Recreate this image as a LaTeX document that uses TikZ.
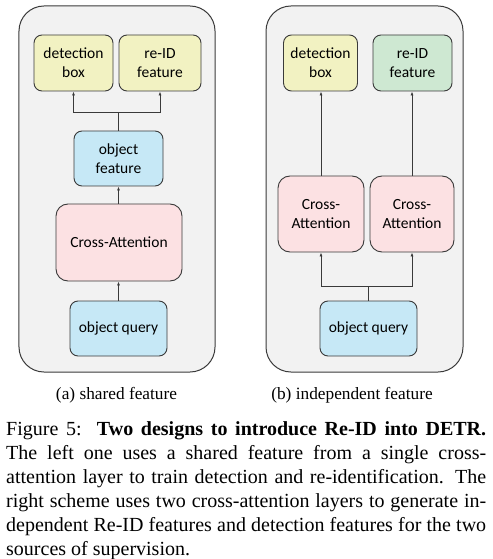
\documentclass[tikz,border=0pt]{standalone}
\usepackage{fontspec}
\setmainfont{Liberation Serif}
\newfontfamily\boxfont{Carlito}
\usetikzlibrary{arrows.meta}
\definecolor{panelbg}{HTML}{F2F2F2}
\definecolor{linecol}{HTML}{3A3A3A}
\definecolor{yelbox}{HTML}{F2F2C2}
\definecolor{bluebox}{HTML}{C6E8F6}
\definecolor{pinkbox}{HTML}{FCE1E3}
\definecolor{greenbox}{HTML}{CEE8D2}
\tikzset{
  panel/.style={draw=linecol, fill=panelbg, line width=1bp, rounded corners=25bp, inner sep=0},
  blk/.style={draw=linecol, line width=0.9bp, rounded corners=8bp, inner sep=0, align=center,
    font=\boxfont\fontsize{15.5bp}{19bp}\selectfont},
  conn/.style={draw=linecol, line width=0.9bp},
  arr/.style={conn, -{Latex[length=4bp,width=3bp]}},
  sub/.style={font=\fontsize{17.3bp}{20bp}\selectfont, inner sep=0, anchor=base}
}
\begin{document}
\begin{tikzpicture}[x=1bp,y=-1bp]
\useasboundingbox (0,0) rectangle (493,559);
% panels
\node[panel, minimum width=196bp, minimum height=366bp] (pa) at (117,189) {};
\node[panel, minimum width=197bp, minimum height=366bp] (pb) at (364.5,189) {};
% left panel
\node[blk, fill=yelbox, minimum width=79bp, minimum height=56bp] (det1) at (73.5,63) {detection\\box};
\node[blk, fill=yelbox, minimum width=82bp, minimum height=56bp] (reid1) at (160,63) {re-ID\\feature};
\node[blk, fill=bluebox, minimum width=89bp, minimum height=55bp] (of) at (118.5,158.5) {object\\feature};
\node[blk, fill=pinkbox, rounded corners=12bp, minimum width=126bp, minimum height=77bp] (ca1) at (119,242.5) {Cross-Attention};
\node[blk, fill=bluebox, minimum width=97bp, minimum height=55bp] (oq1) at (118.5,328.5) {object query};
\coordinate (jA) at (118.5,112);
\draw[arr] (oq1.north) -- (ca1.south -| oq1.north);
\draw[arr] (ca1.north -| of.south) -- (of.south);
\draw[conn] (of.north) -- (jA);
\draw[arr] (jA) -| (det1.south);
\draw[arr] (jA) -| (reid1.south);
% right panel
\node[blk, fill=yelbox, minimum width=74bp, minimum height=56bp] (det2) at (320.5,63) {detection\\box};
\node[blk, fill=greenbox, minimum width=79bp, minimum height=56bp] (reid2) at (412.5,63) {re-ID\\feature};
\node[blk, fill=pinkbox, rounded corners=12bp, minimum width=86bp, minimum height=76bp] (ca2a) at (321,214) {Cross-\\Attention};
\node[blk, fill=pinkbox, rounded corners=12bp, minimum width=84bp, minimum height=76bp] (ca2b) at (412,214) {Cross-\\Attention};
\node[blk, fill=bluebox, minimum width=97bp, minimum height=55bp] (oq2) at (368.5,328.5) {object query};
\coordinate (jB) at (368.5,286);
\draw[conn] (oq2.north) -- (jB);
\draw[arr] (jB) -| (ca2a.south);
\draw[arr] (jB) -| (ca2b.south);
\draw[arr] (ca2a.north) -- (ca2a.north |- det2.south);
\draw[arr] (ca2b.north) -- (ca2b.north |- reid2.south);
% sub captions
\node[sub] (suba) at (116.5,399) {(a) shared feature};
\node[sub] (subb) at (352,399) {(b) independent feature};
% caption
\node[inner sep=0, anchor=base west] (cap) at (6,435) {\parbox[t]{480bp}{\fontsize{20bp}{24bp}\selectfont\hyphenpenalty=10000
Figure 5:\ \ \textbf{Two designs to introduce Re-ID into DETR.}\linebreak
The left one uses a shared feature from a single cross-\linebreak
attention layer to train detection and re-identification. The\linebreak
right scheme uses two cross-attention layers to generate in-\linebreak
dependent Re-ID features and detection features for the two\linebreak
sources of supervision.}};
\end{tikzpicture}
\end{document}
